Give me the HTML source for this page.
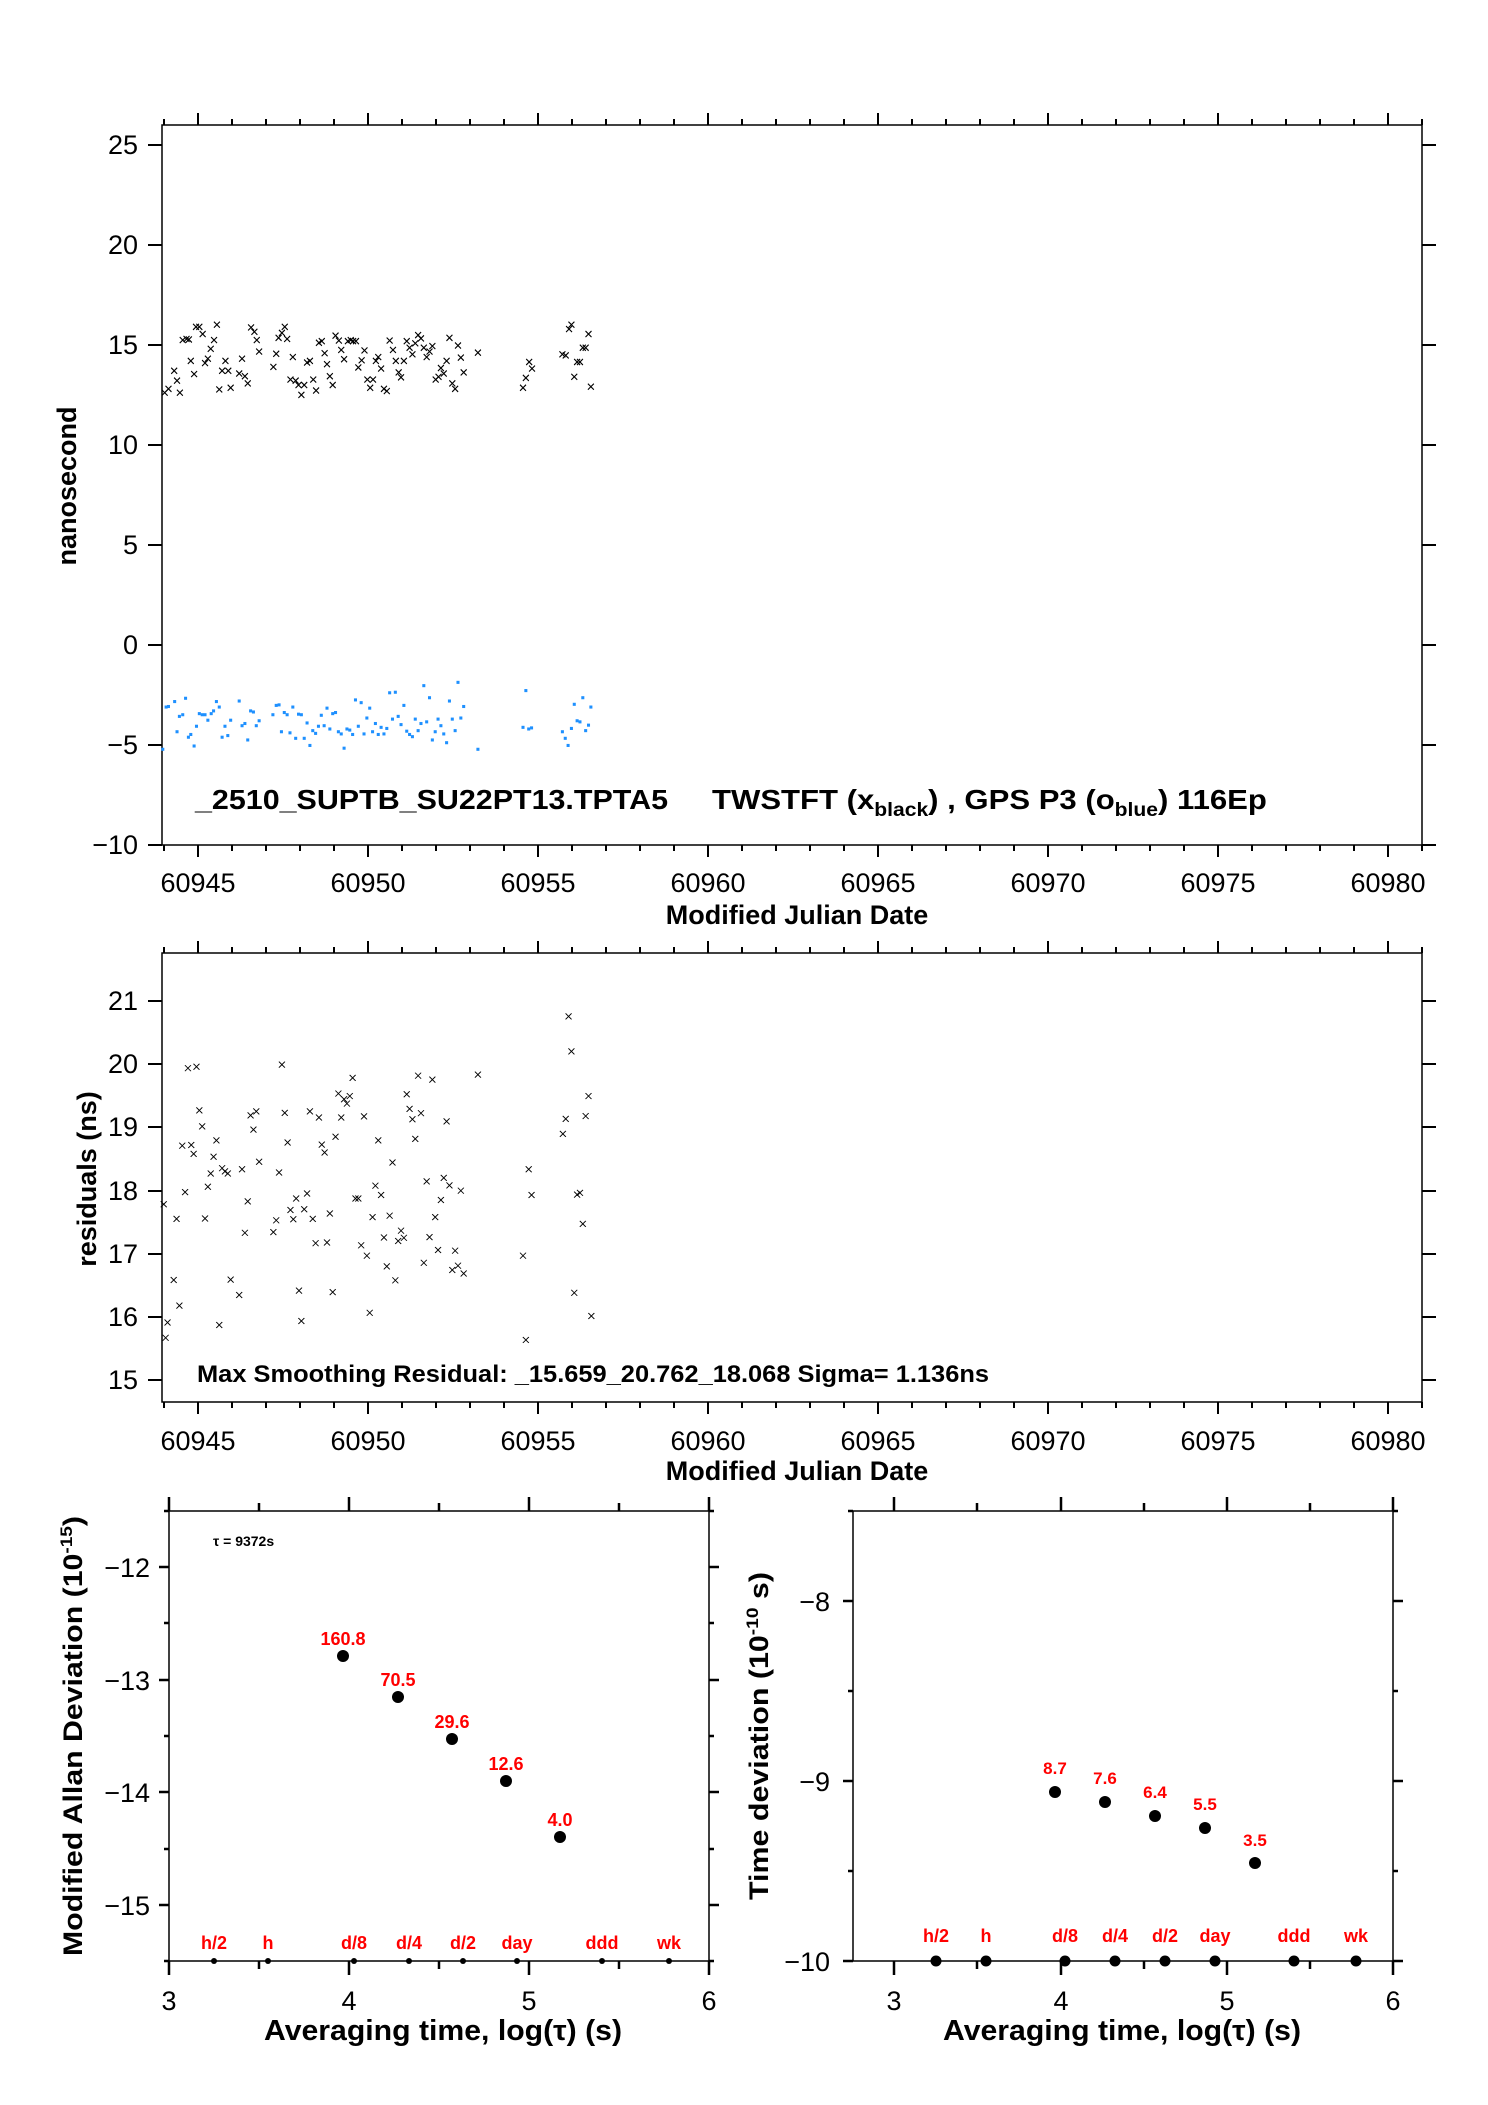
<!DOCTYPE html>
<html><head><meta charset="utf-8"><style>
body{margin:0;background:#fff}
svg{display:block}
text{font-family:"Liberation Sans",sans-serif;fill:#000}
.t{font-size:27px}
.b{font-weight:bold}
.n{font-family:"Liberation Sans Narrow","Liberation Sans",sans-serif}
.r text{fill:#ff0000;font-weight:bold;font-size:18px;text-anchor:middle}
.r16 text{font-size:17px}
</style></head><body>
<svg width="1488" height="2105" viewBox="0 0 1488 2105" xmlns="http://www.w3.org/2000/svg">
<defs>
<marker id="mx1" markerUnits="userSpaceOnUse" refX="0" refY="0" markerWidth="20" markerHeight="20" viewBox="-10 -10 20 20" overflow="visible"><path d="M-6.3 -5.5L6.3 5.5M-6.3 5.5L6.3 -5.5" stroke="#000" stroke-width="2.2" fill="none"/></marker>
<marker id="mb1" markerUnits="userSpaceOnUse" refX="0" refY="0" markerWidth="20" markerHeight="20" viewBox="-10 -10 20 20" overflow="visible"><rect x="-3.2" y="-2.8" width="6.4" height="5.6" fill="#1e90ff"/></marker>
<marker id="mx2" markerUnits="userSpaceOnUse" refX="0" refY="0" markerWidth="20" markerHeight="20" viewBox="-10 -10 20 20" overflow="visible"><path d="M-6.3 -8.4L6.3 8.4M-6.3 8.4L6.3 -8.4" stroke="#000" stroke-width="2.2" fill="none"/></marker>
</defs>

<!-- PANEL 1 -->
<rect x="162" y="125" width="1260" height="720" fill="none" stroke="#000" stroke-width="1.5"/>
<g stroke="#000" stroke-width="2">
<path d="M198 125v-12M368 125v-12M538 125v-12M708 125v-12M878 125v-12M1048 125v-12M1218 125v-12M1388 125v-12
M198 845v12M368 845v12M538 845v12M708 845v12M878 845v12M1048 845v12M1218 845v12M1388 845v12"/>
<path d="M164 125v-6M232 125v-6M266 125v-6M300 125v-6M334 125v-6M402 125v-6M436 125v-6M470 125v-6M504 125v-6M572 125v-6M606 125v-6M640 125v-6M674 125v-6M742 125v-6M776 125v-6M810 125v-6M844 125v-6M912 125v-6M946 125v-6M980 125v-6M1014 125v-6M1082 125v-6M1116 125v-6M1150 125v-6M1184 125v-6M1252 125v-6M1286 125v-6M1320 125v-6M1354 125v-6M1422 125v-6
M164 845v6M232 845v6M266 845v6M300 845v6M334 845v6M402 845v6M436 845v6M470 845v6M504 845v6M572 845v6M606 845v6M640 845v6M674 845v6M742 845v6M776 845v6M810 845v6M844 845v6M912 845v6M946 845v6M980 845v6M1014 845v6M1082 845v6M1116 845v6M1150 845v6M1184 845v6M1252 845v6M1286 845v6M1320 845v6M1354 845v6M1422 845v6"/>
<path d="M162 145h-14M162 245h-14M162 345h-14M162 445h-14M162 545h-14M162 645h-14M162 745h-14M162 845h-14
M1422 145h14M1422 245h14M1422 345h14M1422 445h14M1422 545h14M1422 645h14M1422 745h14M1422 845h14"/>
</g>
<g class="t" text-anchor="end">
<text x="138" y="154">25</text><text x="138" y="254">20</text><text x="138" y="354">15</text><text x="138" y="454">10</text><text x="138" y="554">5</text><text x="138" y="654">0</text><text x="138" y="754">−5</text><text x="138" y="854">−10</text>
</g>
<g class="t" text-anchor="middle">
<text x="198" y="892">60945</text><text x="368" y="892">60950</text><text x="538" y="892">60955</text><text x="708" y="892">60960</text><text x="878" y="892">60965</text><text x="1048" y="892">60970</text><text x="1218" y="892">60975</text><text x="1388" y="892">60980</text>
</g>
<text class="t b" x="797" y="924" text-anchor="middle">Modified Julian Date</text>
<text class="t b" transform="translate(76,486) rotate(-90)" text-anchor="middle">nanosecond</text>
<text class="b" font-size="28" x="195" y="809" textLength="473" lengthAdjust="spacingAndGlyphs">_2510_SUPTB_SU22PT13.TPTA5</text>
<g transform="translate(712,809) scale(1.11,1)"><text class="b" font-size="28" x="0" y="0">TWSTFT (x<tspan font-size="19" dy="7">black</tspan><tspan dy="-7">) ,  GPS P3 (o</tspan><tspan font-size="19" dy="7">blue</tspan><tspan dy="-7">)  116Ep</tspan></text></g>

<g transform="translate(0,80) scale(0.4746,0.5486)">
<path fill="none" stroke="none" marker-start="url(#mx1)" marker-mid="url(#mx1)" marker-end="url(#mx1)" d="M347 570L355 563L367 530L373 548L379 570L385 474L393 472L398 473L402 512L409 536L413 450L420 450L427 463L432 516L438 508L444 490L451 474L457 446L462 564L468 530L475 512L481 530L486 561L504 535L510 508L516 540L522 553L529 451L536 459L541 474L546 495L576 523L582 499L587 470L594 461L600 450L605 472L617 505L612 546L623 548L629 556L635 574L641 556L647 515L653 512L660 546L666 566L672 479L678 476L684 498L689 518L695 540L701 556L707 466L714 475L719 492L725 509L733 476L739 474L744 476L750 476L755 524L762 511L768 493L774 546L780 561L786 546L792 512L797 505L803 526L809 563L815 567L821 475L828 492L834 512L840 533L845 542L851 512L857 476L863 488L869 500L875 480L881 465L887 471L893 488L899 505L905 495L911 485L918 546L924 541L929 525L935 535L941 512L947 470L953 553L959 563L965 484L971 506L977 533L1007 497L1102 561L1108 543L1115 514L1121 526L1185 500L1192 502L1199 454L1204 446L1210 541L1216 514L1222 514L1228 488L1234 488L1240 463L1245 559"/>
<path fill="none" stroke="none" marker-start="url(#mb1)" marker-mid="url(#mb1)" marker-end="url(#mb1)" d="M343 1220L350 1143L355 1142L368 1133L373 1188L378 1160L385 1157L391 1127L397 1198L402 1193L409 1214L414 1178L420 1155L426 1157L432 1157L438 1167L445 1155L450 1150L456 1133L462 1143L468 1198L474 1178L480 1195L486 1167L504 1132L510 1177L516 1173L522 1203L528 1150L534 1152L540 1177L546 1168L575 1157L582 1140L588 1139L593 1188L599 1153L605 1157L611 1190L617 1143L623 1200L629 1156L635 1157L641 1200L647 1172L653 1213L659 1186L665 1191L671 1178L677 1158L683 1177L689 1145L695 1183L701 1155L707 1153L713 1188L719 1192L725 1218L731 1183L737 1185L743 1193L749 1130L755 1178L761 1135L767 1192L773 1163L779 1145L785 1188L791 1173L797 1193L803 1180L809 1192L815 1182L821 1117L827 1165L833 1116L839 1160L845 1175L851 1140L857 1187L863 1193L869 1197L875 1165L881 1186L887 1173L893 1104L899 1170L905 1126L911 1203L917 1188L923 1165L929 1177L935 1192L941 1208L947 1132L953 1165L959 1186L965 1098L971 1163L977 1142L1007 1220L1102 1180L1108 1113L1114 1183L1120 1181L1185 1188L1191 1200L1197 1213L1204 1182L1210 1138L1216 1168L1222 1170L1228 1126L1234 1186L1240 1176L1245 1143"/>
</g>

<!-- PANEL 2 -->
<rect x="162" y="953" width="1260" height="449" fill="none" stroke="#000" stroke-width="1.5"/>
<g stroke="#000" stroke-width="2">
<path d="M198 953v-12M368 953v-12M538 953v-12M708 953v-12M878 953v-12M1048 953v-12M1218 953v-12M1388 953v-12
M198 1402v12M368 1402v12M538 1402v12M708 1402v12M878 1402v12M1048 1402v12M1218 1402v12M1388 1402v12"/>
<path d="M164 953v-6M232 953v-6M266 953v-6M300 953v-6M334 953v-6M402 953v-6M436 953v-6M470 953v-6M504 953v-6M572 953v-6M606 953v-6M640 953v-6M674 953v-6M742 953v-6M776 953v-6M810 953v-6M844 953v-6M912 953v-6M946 953v-6M980 953v-6M1014 953v-6M1082 953v-6M1116 953v-6M1150 953v-6M1184 953v-6M1252 953v-6M1286 953v-6M1320 953v-6M1354 953v-6M1422 953v-6
M164 1402v6M232 1402v6M266 1402v6M300 1402v6M334 1402v6M402 1402v6M436 1402v6M470 1402v6M504 1402v6M572 1402v6M606 1402v6M640 1402v6M674 1402v6M742 1402v6M776 1402v6M810 1402v6M844 1402v6M912 1402v6M946 1402v6M980 1402v6M1014 1402v6M1082 1402v6M1116 1402v6M1150 1402v6M1184 1402v6M1252 1402v6M1286 1402v6M1320 1402v6M1354 1402v6M1422 1402v6"/>
<path d="M162 1001h-14M162 1064h-14M162 1127h-14M162 1191h-14M162 1254h-14M162 1317h-14M162 1380h-14
M1422 1001h14M1422 1064h14M1422 1127h14M1422 1191h14M1422 1254h14M1422 1317h14M1422 1380h14"/>
</g>
<g class="t" text-anchor="end">
<text x="138" y="1010">21</text><text x="138" y="1073">20</text><text x="138" y="1136">19</text><text x="138" y="1200">18</text><text x="138" y="1263">17</text><text x="138" y="1326">16</text><text x="138" y="1389">15</text>
</g>
<g class="t" text-anchor="middle">
<text x="198" y="1450">60945</text><text x="368" y="1450">60950</text><text x="538" y="1450">60955</text><text x="708" y="1450">60960</text><text x="878" y="1450">60965</text><text x="1048" y="1450">60970</text><text x="1218" y="1450">60975</text><text x="1388" y="1450">60980</text>
</g>
<text class="t b" x="797" y="1480" text-anchor="middle">Modified Julian Date</text>
<text class="t b" transform="translate(96,1179) rotate(-90)" text-anchor="middle">residuals (ns)</text>
<text class="b n" font-size="24" x="197" y="1382" textLength="792" lengthAdjust="spacingAndGlyphs">Max Smoothing Residual: _15.659_20.762_18.068  Sigma= 1.136ns</text>
<g transform="translate(0,940) scale(0.4746,0.3571)">
<path fill="none" stroke="none" marker-start="url(#mx2)" marker-mid="url(#mx2)" marker-end="url(#mx2)" d="M345 740L349 1114L353 1071L366 952L372 781L378 1024L384 576L390 706L396 359L403 574L408 599L414 355L420 477L426 522L432 780L438 691L444 654L450 607L456 561L462 1078L468 639L474 648L480 654L486 951L504 994L510 642L516 820L522 732L528 491L534 531L540 480L546 621L576 818L582 785L588 651L594 349L600 484L606 567L612 756L618 782L624 724L630 982L635 1067L641 754L647 710L653 480L659 781L665 849L672 497L678 573L684 595L689 847L695 766L701 986L707 551L713 430L719 497L725 446L731 458L737 437L743 386L749 724L755 724L761 855L767 494L773 884L779 1044L785 776L791 688L797 561L803 714L809 833L815 914L821 772L827 623L833 953L839 843L845 814L851 834L857 432L863 473L869 502L875 557L881 380L887 485L893 904L899 676L905 832L911 391L917 776L923 868L929 728L935 666L941 508L947 687L953 924L959 870L965 912L971 702L977 934L1007 377L1102 884L1108 1120L1114 642L1120 714L1186 543L1192 501L1198 214L1204 312L1210 988L1216 713L1222 708L1228 795L1234 493L1240 437L1246 1053"/>
</g>

<!-- BOTTOM LEFT -->
<rect x="169" y="1511" width="540" height="450" fill="none" stroke="#000" stroke-width="1.5"/>
<g stroke="#000" stroke-width="2.5">
<path d="M169 1511v-14M349 1511v-14M529 1511v-14M709 1511v-14M259 1511v-8M439 1511v-8M619 1511v-8
M169 1961v14M349 1961v14M529 1961v14M709 1961v14M259 1961v8M439 1961v8M619 1961v8
M169 1567h-10M169 1680h-10M169 1792h-10M169 1905h-10M169 1623h-5M169 1736h-5M169 1849h-5M169 1511h-5M169 1961h-5
M709 1567h10M709 1680h10M709 1792h10M709 1905h10M709 1623h5M709 1736h5M709 1849h5M709 1511h5M709 1961h5"/>
</g>
<g class="t n" text-anchor="end" font-size="28">
<text x="150" y="1577">−12</text><text x="150" y="1690">−13</text><text x="150" y="1802">−14</text><text x="150" y="1915">−15</text>
</g>
<g class="t n" text-anchor="middle" font-size="28">
<text x="169" y="2010">3</text><text x="349" y="2010">4</text><text x="529" y="2010">5</text><text x="709" y="2010">6</text>
</g>
<text class="b n" font-size="29" x="264" y="2040" textLength="358" lengthAdjust="spacingAndGlyphs">Averaging time, log(τ) (s)</text>
<text class="b" font-size="27" transform="translate(82,1956) rotate(-90)" textLength="440" lengthAdjust="spacingAndGlyphs">Modified Allan Deviation (10<tspan font-size="17" dy="-10">-15</tspan><tspan dy="10">)</tspan></text>
<text class="b n" font-size="14" x="213" y="1546">τ = 9372s</text>
<g fill="#000"><circle cx="343" cy="1656" r="6"/><circle cx="398" cy="1697" r="6"/><circle cx="452" cy="1739" r="6"/><circle cx="506" cy="1781" r="6"/><circle cx="560" cy="1837" r="6"/>
<circle cx="214" cy="1961" r="3"/><circle cx="268" cy="1961" r="3"/><circle cx="354" cy="1961" r="3"/><circle cx="409" cy="1961" r="3"/><circle cx="463" cy="1961" r="3"/><circle cx="517" cy="1961" r="3"/><circle cx="602" cy="1961" r="3"/><circle cx="669" cy="1961" r="3"/></g>
<g class="r"><text x="343" y="1645">160.8</text><text x="398" y="1686">70.5</text><text x="452" y="1728">29.6</text><text x="506" y="1770">12.6</text><text x="560" y="1826">4.0</text>
<text x="214" y="1949">h/2</text><text x="268" y="1949">h</text><text x="354" y="1949">d/8</text><text x="409" y="1949">d/4</text><text x="463" y="1949">d/2</text><text x="517" y="1949">day</text><text x="602" y="1949">ddd</text><text x="669" y="1949">wk</text></g>

<!-- BOTTOM RIGHT -->
<rect x="853" y="1511" width="540" height="450" fill="none" stroke="#000" stroke-width="1.5"/>
<g stroke="#000" stroke-width="2.5">
<path d="M894 1511v-14M1061 1511v-14M1227 1511v-14M1393 1511v-14M977 1511v-8M1144 1511v-8M1310 1511v-8
M894 1961v14M1061 1961v14M1227 1961v14M1393 1961v14M977 1961v8M1144 1961v8M1310 1961v8
M853 1601h-10M853 1781h-10M853 1961h-10M853 1691h-5M853 1871h-5M853 1511h-5
M1393 1601h10M1393 1781h10M1393 1961h10M1393 1691h5M1393 1871h5M1393 1511h5"/>
</g>
<g class="t n" text-anchor="end" font-size="28">
<text x="830" y="1611">−8</text><text x="830" y="1791">−9</text><text x="830" y="1971">−10</text>
</g>
<g class="t n" text-anchor="middle" font-size="28">
<text x="894" y="2010">3</text><text x="1061" y="2010">4</text><text x="1227" y="2010">5</text><text x="1393" y="2010">6</text>
</g>
<text class="b n" font-size="29" x="943" y="2040" textLength="358" lengthAdjust="spacingAndGlyphs">Averaging time, log(τ) (s)</text>
<text class="b" font-size="27" transform="translate(768,1900) rotate(-90)" textLength="328" lengthAdjust="spacingAndGlyphs">Time deviation (10<tspan font-size="17" dy="-10">-10</tspan><tspan dy="10"> s)</tspan></text>
<g fill="#000"><circle cx="1055" cy="1792" r="6"/><circle cx="1105" cy="1802" r="6"/><circle cx="1155" cy="1816" r="6"/><circle cx="1205" cy="1828" r="6"/><circle cx="1255" cy="1863" r="6"/>
<circle cx="936" cy="1961" r="5.5"/><circle cx="986" cy="1961" r="5.5"/><circle cx="1065" cy="1961" r="5.5"/><circle cx="1115" cy="1961" r="5.5"/><circle cx="1165" cy="1961" r="5.5"/><circle cx="1215" cy="1961" r="5.5"/><circle cx="1294" cy="1961" r="5.5"/><circle cx="1356" cy="1961" r="5.5"/></g>
<g class="r r16"><text x="1055" y="1774">8.7</text><text x="1105" y="1784">7.6</text><text x="1155" y="1798">6.4</text><text x="1205" y="1810">5.5</text><text x="1255" y="1846">3.5</text></g>
<g class="r"><text x="936" y="1942">h/2</text><text x="986" y="1942">h</text><text x="1065" y="1942">d/8</text><text x="1115" y="1942">d/4</text><text x="1165" y="1942">d/2</text><text x="1215" y="1942">day</text><text x="1294" y="1942">ddd</text><text x="1356" y="1942">wk</text></g>
</svg>
</body></html>
